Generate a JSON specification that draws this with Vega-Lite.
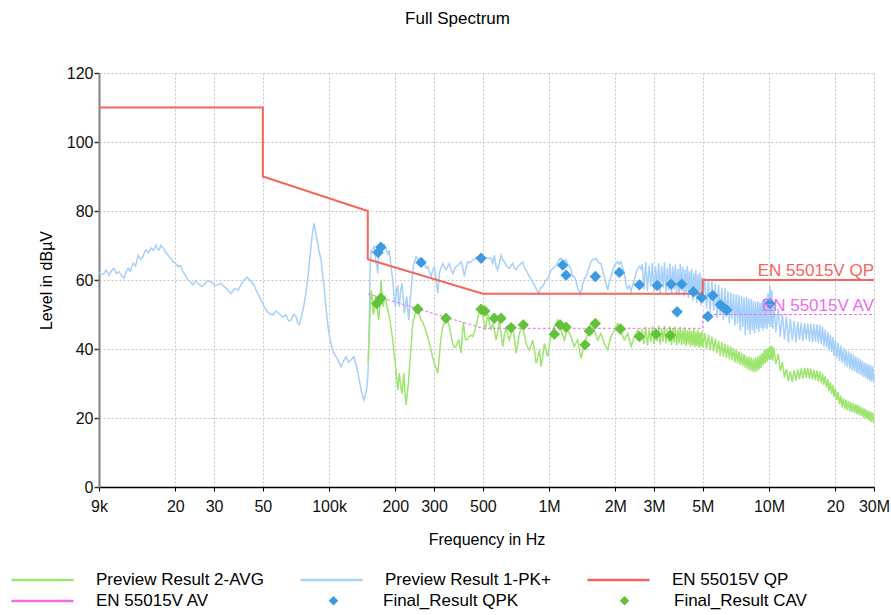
{
"$schema": "https://vega.github.io/schema/vega-lite/v6.json",
"width": 775, "height": 414,
"autosize": {"type": "none"},
"padding": {"left": 99, "top": 73, "right": 17, "bottom": 128},
"background": "white",
"title": {"text": "Full Spectrum", "frame": "group", "anchor": "middle", "dx": -29, "offset": 24, "baseline": "alphabetic", "fontSize": 17, "fontWeight": "normal", "font": "Liberation Sans", "color": "#000"},
"config": {"view": {"stroke": null}, "font": "Liberation Sans"},
"datasets": {
"pk": [
{"f":9000,"v":62.0},{"f":9450,"v":61.6},{"f":9690,"v":62.9},{"f":10000,"v":61.4},{"f":10250,"v":62.6},{"f":10540,"v":63.4},{"f":10800,"v":61.9},{"f":11100,"v":62.4},{"f":11400,"v":61.2},{"f":11700,"v":60.5},{"f":11950,"v":62.3},{"f":12210,"v":63.4},{"f":12500,"v":62.6},{"f":12860,"v":64.9},{"f":13200,"v":64.1},{"f":13550,"v":67.2},{"f":13900,"v":66.0},{"f":14270,"v":66.8},{"f":14500,"v":68.1},{"f":14730,"v":68.7},{"f":15100,"v":67.9},{"f":15520,"v":69.3},{"f":15900,"v":68.6},{"f":16360,"v":70.1},{"f":16600,"v":69.0},{"f":16880,"v":68.7},{"f":17200,"v":70.0},{"f":17600,"v":69.3},{"f":18000,"v":68.2},{"f":18540,"v":67.2},{"f":19000,"v":66.4},{"f":19540,"v":65.3},{"f":20000,"v":64.9},{"f":20590,"v":63.9},{"f":21100,"v":64.2},{"f":21700,"v":62.4},{"f":22300,"v":61.2},{"f":22860,"v":60.0},{"f":23400,"v":59.5},{"f":24090,"v":58.6},{"f":24700,"v":59.8},{"f":25380,"v":59.0},{"f":26200,"v":58.2},{"f":27030,"v":58.6},{"f":28000,"v":59.7},{"f":29080,"v":59.5},{"f":30200,"v":58.4},{"f":31300,"v":58.6},{"f":32300,"v":59.1},{"f":33330,"v":58.1},{"f":34500,"v":57.3},{"f":35850,"v":56.1},{"f":37200,"v":57.5},{"f":38580,"v":57.1},{"f":39800,"v":58.6},{"f":41080,"v":60.0},{"f":42500,"v":60.8},{"f":44200,"v":59.5},{"f":45300,"v":58.8},{"f":46570,"v":57.1},{"f":47800,"v":55.8},{"f":49080,"v":54.2},{"f":50400,"v":52.6},{"f":51710,"v":51.3},{"f":53500,"v":50.2},{"f":55660,"v":49.9},{"f":57500,"v":51.0},{"f":59250,"v":50.3},{"f":61500,"v":49.2},{"f":63730,"v":49.9},{"f":65500,"v":48.1},{"f":67180,"v":48.4},{"f":69000,"v":50.1},{"f":70790,"v":49.4},{"f":72000,"v":47.6},{"f":73050,"v":47.0},{"f":74500,"v":48.8},{"f":76180,"v":51.3},{"f":78200,"v":55.5},{"f":80270,"v":61.0},{"f":81500,"v":65.5},{"f":82840,"v":69.7},{"f":84000,"v":73.5},{"f":85460,"v":76.4},{"f":86800,"v":74.0},{"f":88200,"v":71.6},{"f":90000,"v":68.4},{"f":91970,"v":65.8},{"f":93500,"v":61.5},{"f":94900,"v":58.1},{"f":97000,"v":51.5},{"f":98960,"v":46.5},{"f":100500,"v":43.5},{"f":102100,"v":41.6},{"f":104800,"v":39.0},{"f":107600,"v":37.8},{"f":110500,"v":36.5},{"f":113400,"v":34.9},{"f":116500,"v":36.6},{"f":119500,"v":37.8},{"f":122500,"v":36.2},{"f":125900,"v":36.8},{"f":129900,"v":37.8},{"f":133000,"v":35.0},{"f":135500,"v":33.0},{"f":139800,"v":28.1},{"f":142000,"v":26.5},{"f":144300,"v":25.2},{"f":146500,"v":27.0},{"f":148800,"v":29.1},{"f":150500,"v":33.5},{"f":152000,"v":45.0},
{"f":153500,"v":62.0},{"f":155200,"v":68.7},{"f":156900,"v":67.5},{"f":158500,"v":69.2},{"f":160700,"v":69.7},{"f":163000,"v":66.0},{"f":166500,"v":62.0},{"f":168200,"v":67.0},{"f":169300,"v":69.3},{"f":172300,"v":68.5},{"f":175000,"v":69.5},{"f":178400,"v":70.1},{"f":181600,"v":69.0},{"f":185000,"v":67.5},{"f":188000,"v":68.7},{"f":191000,"v":64.0},{"f":194800,"v":60.0},{"f":197500,"v":55.0},{"f":200200,"v":52.3},{"f":202800,"v":57.5},{"f":205300,"v":58.1},{"f":207000,"v":54.0},{"f":208700,"v":52.3},{"f":211500,"v":57.0},{"f":214700,"v":59.0},{"f":217500,"v":54.0},{"f":220000,"v":50.3},{"f":223000,"v":53.5},{"f":225600,"v":55.2},{"f":228000,"v":51.0},{"f":230300,"v":48.4},{"f":233000,"v":53.0},{"f":236000,"v":57.1},{"f":241600,"v":63.9},{"f":248600,"v":66.8},{"f":253000,"v":66.0},{"f":257300,"v":65.8},{"f":261900,"v":65.3},{"f":266500,"v":64.2},{"f":271100,"v":64.8},{"f":276000,"v":63.5},{"f":280900,"v":63.9},{"f":285500,"v":62.5},{"f":290900,"v":61.0},{"f":296000,"v":62.8},{"f":301100,"v":63.9},{"f":306000,"v":60.5},{"f":312000,"v":56.1},{"f":317300,"v":61.9},{"f":322500,"v":63.5},{"f":328700,"v":64.8},{"f":334000,"v":63.8},{"f":340200,"v":62.9},{"f":346000,"v":63.8},{"f":352200,"v":64.8},{"f":358500,"v":63.2},{"f":365000,"v":61.9},{"f":371000,"v":63.0},{"f":377800,"v":63.9},{"f":388000,"v":64.5},{"f":398100,"v":65.3},{"f":404000,"v":64.0},{"f":412100,"v":61.0},{"f":419500,"v":63.5},{"f":427100,"v":65.3},{"f":438000,"v":65.0},{"f":450000,"v":65.8},{"f":462000,"v":66.2},{"f":474100,"v":66.8},{"f":485000,"v":67.0},{"f":499600,"v":67.2},{"f":513500,"v":66.3},{"f":526500,"v":66.3},{"f":545000,"v":66.3},{"f":554800,"v":64.8},{"f":564200,"v":67.2},{"f":574300,"v":64.0},{"f":584600,"v":62.9},{"f":594500,"v":65.0},{"f":605200,"v":67.2},{"f":616000,"v":65.8},{"f":626500,"v":65.3},{"f":643000,"v":63.8},{"f":660100,"v":63.4},{"f":672000,"v":64.2},{"f":683900,"v":64.8},{"f":696000,"v":63.5},{"f":707900,"v":63.0},{"f":720600,"v":63.9},{"f":740000,"v":64.5},{"f":759500,"v":65.3},{"f":772500,"v":63.5},{"f":786300,"v":62.9},{"f":800000,"v":62.0},{"f":813900,"v":61.0},{"f":835000,"v":59.8},{"f":857600,"v":58.6},{"f":877000,"v":57.2},{"f":898000,"v":56.1},{"f":918000,"v":57.8},{"f":936500,"v":58.1},{"f":960000,"v":59.6},{"f":986500,"v":60.5},{"f":1021000,"v":62.9},{"f":1048000,"v":63.5},{"f":1076000,"v":64.3},{"f":1095000,"v":65.0},{"f":1115000,"v":66.0},{"f":1134000,"v":66.3},{"f":1160000,"v":65.5},{"f":1195000,"v":65.8},{"f":1216000,"v":64.5},{"f":1240000,"v":63.9},{"f":1259000,"v":63.0},{"f":1281000,"v":61.0},{"f":1303000,"v":61.0},{"f":1327000,"v":59.5},{"f":1350000,"v":57.6},{"f":1370000,"v":56.8},{"f":1388000,"v":55.7},{"f":1410000,"v":57.5},{"f":1423000,"v":59.0},{"f":1447000,"v":60.3},{"f":1473000,"v":61.0},{"f":1499000,"v":62.5},{"f":1525000,"v":64.0},{"f":1552000,"v":65.3},{"f":1580000,"v":65.9},{"f":1607000,"v":66.0},{"f":1635000,"v":66.3},{"f":1665000,"v":65.5},{"f":1695000,"v":64.8},{"f":1723000,"v":64.8},{"f":1755000,"v":62.5},{"f":1784000,"v":61.0},{"f":1815000,"v":59.0},{"f":1849000,"v":57.1},{"f":1880000,"v":59.5},{"f":1913000,"v":61.0},{"f":1948000,"v":62.8},{"f":1981000,"v":64.3},{"f":2016000,"v":64.8},{"f":2052000,"v":65.3},{"f":2090000,"v":64.6},{"f":2125000,"v":65.3},{"f":2160000,"v":63.5},{"f":2199000,"v":61.9},{"f":2239000,"v":59.0},{"f":2279000,"v":57.5},{"f":2320000,"v":58.3},{"f":2359000,"v":56.6},{"f":2400000,"v":58.5},{"f":2442000,"v":60.0},{"f":2490000,"v":62.0},{"f":2531000,"v":63.4},{"f":2574000,"v":64.0},{"f":2619000,"v":63.2},
{"f":2.65e6,"v":64.6},{"f":2.70e6,"v":57.4},{"f":2.75e6,"v":65.2},{"f":2.80e6,"v":56.8},{"f":2.85e6,"v":64.1},{"f":2.90e6,"v":58.2},{"f":2.95e6,"v":65.0},{"f":3.00e6,"v":56.5},{"f":3.05e6,"v":63.8},{"f":3.10e6,"v":57.6},{"f":3.15e6,"v":64.9},{"f":3.20e6,"v":56.2},{"f":3.25e6,"v":64.0},{"f":3.30e6,"v":57.8},{"f":3.35e6,"v":65.1},{"f":3.40e6,"v":56.4},{"f":3.45e6,"v":63.6},{"f":3.50e6,"v":57.0},{"f":3.55e6,"v":64.8},{"f":3.60e6,"v":55.8},{"f":3.65e6,"v":63.9},{"f":3.70e6,"v":57.2},{"f":3.75e6,"v":64.5},{"f":3.80e6,"v":56.0},{"f":3.85e6,"v":63.2},{"f":3.90e6,"v":55.6},{"f":3.95e6,"v":64.6},{"f":4.00e6,"v":56.8},{"f":4.05e6,"v":63.8},{"f":4.10e6,"v":55.2},{"f":4.15e6,"v":63.0},{"f":4.20e6,"v":56.3},{"f":4.25e6,"v":64.0},{"f":4.30e6,"v":54.8},{"f":4.35e6,"v":62.6},{"f":4.40e6,"v":55.9},{"f":4.45e6,"v":63.1},{"f":4.50e6,"v":54.0},{"f":4.55e6,"v":62.0},{"f":4.60e6,"v":55.2},{"f":4.65e6,"v":62.8},{"f":4.70e6,"v":53.4},{"f":4.75e6,"v":61.6},{"f":4.80e6,"v":54.6},{"f":4.85e6,"v":62.2},{"f":4.90e6,"v":52.6},{"f":4.95e6,"v":61.0},{"f":5.00e6,"v":53.5},
{"f":5.1e6,"v":60.6},{"f":5.2e6,"v":51.6},{"f":5.3e6,"v":60.2},{"f":5.4e6,"v":50.4},{"f":5.5e6,"v":59.6},{"f":5.6e6,"v":51.0},{"f":5.7e6,"v":59.0},{"f":5.8e6,"v":49.0},{"f":5.9e6,"v":58.6},{"f":6.0e6,"v":50.0},{"f":6.1e6,"v":57.8},{"f":6.2e6,"v":48.5},{"f":6.3e6,"v":57.6},{"f":6.4e6,"v":49.2},{"f":6.5e6,"v":56.8},{"f":6.6e6,"v":47.5},{"f":6.7e6,"v":56.4},{"f":6.8e6,"v":48.6},{"f":6.9e6,"v":56.0},{"f":7.0e6,"v":46.8},{"f":7.1e6,"v":55.8},{"f":7.2e6,"v":47.4},{"f":7.3e6,"v":55.6},{"f":7.4e6,"v":45.2},{"f":7.5e6,"v":55.4},{"f":7.6e6,"v":46.4},{"f":7.7e6,"v":55.0},{"f":7.8e6,"v":44.0},{"f":7.9e6,"v":55.2},{"f":8.0e6,"v":45.6},{"f":8.1e6,"v":54.6},{"f":8.2e6,"v":44.2},{"f":8.3e6,"v":54.4},{"f":8.4e6,"v":45.4},{"f":8.5e6,"v":54.0},{"f":8.6e6,"v":44.6},{"f":8.7e6,"v":53.6},{"f":8.8e6,"v":45.8},{"f":8.9e6,"v":53.8},{"f":9.0e6,"v":45.0},{"f":9.1e6,"v":53.4},{"f":9.2e6,"v":46.0},{"f":9.3e6,"v":54.0},{"f":9.4e6,"v":45.4},{"f":9.5e6,"v":54.2},{"f":9.6e6,"v":46.2},{"f":9.7e6,"v":55.0},{"f":9.8e6,"v":45.8},{"f":9.9e6,"v":56.2},{"f":10.0e6,"v":47.0},{"f":10.1e6,"v":58.4},{"f":10.2e6,"v":46.4},{"f":10.3e6,"v":57.0},{"f":10.4e6,"v":45.8},{"f":10.5e6,"v":53.5},
{"f":10.75e6,"v":44.8},{"f":11.0e6,"v":51.8},{"f":11.25e6,"v":43.6},{"f":11.5e6,"v":50.2},{"f":11.75e6,"v":42.8},{"f":12.0e6,"v":49.4},{"f":12.25e6,"v":41.8},{"f":12.5e6,"v":48.8},{"f":12.75e6,"v":42.4},{"f":13.0e6,"v":48.2},{"f":13.25e6,"v":42.0},{"f":13.5e6,"v":47.9},{"f":13.75e6,"v":42.6},{"f":14.0e6,"v":47.6},{"f":14.25e6,"v":42.3},{"f":14.5e6,"v":47.5},{"f":14.75e6,"v":42.7},{"f":15.0e6,"v":47.3},{"f":15.25e6,"v":42.2},{"f":15.5e6,"v":47.4},{"f":15.75e6,"v":42.0},{"f":16.0e6,"v":47.2},{"f":16.25e6,"v":42.1},{"f":16.5e6,"v":47.1},{"f":16.75e6,"v":41.7},{"f":17.0e6,"v":47.0},{"f":17.25e6,"v":41.4},{"f":17.5e6,"v":46.4},{"f":17.75e6,"v":40.8},{"f":18.0e6,"v":45.6},{"f":18.25e6,"v":40.3},{"f":18.5e6,"v":44.9},{"f":18.75e6,"v":39.6},{"f":19.0e6,"v":44.2},{"f":19.25e6,"v":39.1},{"f":19.5e6,"v":43.4},{"f":19.75e6,"v":38.0},{"f":20.0e6,"v":42.6},{"f":20.3e6,"v":37.4},{"f":20.6e6,"v":41.9},{"f":20.9e6,"v":36.5},{"f":21.2e6,"v":41.0},{"f":21.5e6,"v":35.9},{"f":21.8e6,"v":40.2},{"f":22.1e6,"v":35.2},{"f":22.4e6,"v":39.8},{"f":22.7e6,"v":34.7},{"f":23.0e6,"v":39.3},{"f":23.3e6,"v":34.2},{"f":23.6e6,"v":38.8},{"f":23.9e6,"v":33.7},{"f":24.2e6,"v":38.4},{"f":24.5e6,"v":33.4},{"f":24.8e6,"v":37.8},{"f":25.1e6,"v":33.0},{"f":25.4e6,"v":37.4},{"f":25.7e6,"v":32.7},{"f":26.0e6,"v":37.0},{"f":26.3e6,"v":32.3},{"f":26.6e6,"v":36.6},{"f":26.9e6,"v":31.9},{"f":27.2e6,"v":36.1},{"f":27.5e6,"v":31.6},{"f":27.8e6,"v":35.8},{"f":28.1e6,"v":31.2},{"f":28.4e6,"v":35.6},{"f":28.7e6,"v":30.8},{"f":29.0e6,"v":35.3},{"f":29.3e6,"v":30.5},{"f":29.6e6,"v":35.0},{"f":30.0e6,"v":30.4}
],
"avg": [
{"f":150500,"v":36.0},{"f":152000,"v":42.6},{"f":153500,"v":50.0},{"f":155200,"v":57.0},{"f":156900,"v":55.2},{"f":158800,"v":50.0},{"f":160700,"v":51.3},{"f":162700,"v":55.5},{"f":164700,"v":54.2},{"f":166500,"v":50.5},{"f":168200,"v":48.4},{"f":170200,"v":53.0},{"f":172300,"v":60.0},{"f":174400,"v":55.0},{"f":176500,"v":52.3},{"f":179000,"v":55.5},{"f":181600,"v":54.2},{"f":185000,"v":51.0},{"f":188000,"v":49.4},{"f":191500,"v":46.0},{"f":194800,"v":42.6},{"f":197500,"v":38.5},{"f":200200,"v":35.8},{"f":203000,"v":31.5},{"f":205300,"v":28.1},{"f":207000,"v":30.5},{"f":208700,"v":33.0},{"f":210300,"v":31.0},{"f":212500,"v":28.5},{"f":214700,"v":27.1},{"f":216600,"v":30.0},{"f":218600,"v":33.0},{"f":221000,"v":28.0},{"f":223900,"v":23.8},{"f":226500,"v":26.5},{"f":229400,"v":30.1},{"f":232500,"v":35.5},{"f":236000,"v":40.7},{"f":238500,"v":45.0},{"f":241600,"v":48.4},{"f":244500,"v":49.5},{"f":246800,"v":50.3},{"f":250000,"v":51.0},{"f":253000,"v":51.3},{"f":257000,"v":50.0},{"f":261900,"v":48.4},{"f":266500,"v":47.8},{"f":271100,"v":46.5},{"f":276000,"v":45.0},{"f":280900,"v":43.6},{"f":286000,"v":41.5},{"f":290900,"v":39.7},{"f":296000,"v":37.5},{"f":301100,"v":35.8},{"f":306500,"v":34.5},{"f":312000,"v":33.0},{"f":315500,"v":36.0},{"f":319600,"v":40.7},{"f":324000,"v":44.0},{"f":328700,"v":46.5},{"f":334000,"v":47.5},{"f":340200,"v":48.9},{"f":346000,"v":48.0},{"f":352200,"v":46.5},{"f":358500,"v":44.0},{"f":365000,"v":41.6},{"f":371000,"v":40.5},{"f":377800,"v":40.7},{"f":383000,"v":41.8},{"f":388600,"v":42.6},{"f":393500,"v":40.5},{"f":398100,"v":38.8},{"f":403000,"v":43.5},{"f":407800,"v":47.9},{"f":412000,"v":45.5},{"f":416000,"v":43.0},{"f":419500,"v":42.6},{"f":427000,"v":43.0},{"f":434200,"v":43.6},{"f":442000,"v":44.0},{"f":450000,"v":43.6},{"f":458000,"v":45.0},{"f":465800,"v":46.5},{"f":472500,"v":48.5},{"f":479200,"v":50.3},{"f":488000,"v":51.3},{"f":496000,"v":51.0},{"f":505000,"v":48.0},{"f":513500,"v":45.5},{"f":520000,"v":48.0},{"f":526500,"v":50.3},{"f":535000,"v":47.5},{"f":545000,"v":45.5},{"f":554800,"v":47.4},{"f":564200,"v":45.5},{"f":574300,"v":42.6},{"f":584600,"v":45.0},{"f":594500,"v":48.4},{"f":605200,"v":44.5},{"f":616000,"v":40.7},{"f":626500,"v":44.0},{"f":637700,"v":46.5},{"f":648000,"v":44.0},{"f":660100,"v":42.6},{"f":672000,"v":44.5},{"f":683900,"v":46.5},{"f":696000,"v":43.0},{"f":707900,"v":38.8},{"f":720600,"v":41.5},{"f":732800,"v":44.5},{"f":746000,"v":45.8},{"f":759500,"v":46.5},{"f":772500,"v":44.0},{"f":786300,"v":41.6},{"f":800000,"v":40.5},{"f":813900,"v":39.7},{"f":828000,"v":41.0},{"f":843300,"v":42.6},{"f":857600,"v":40.0},{"f":873000,"v":35.8},{"f":888000,"v":37.5},{"f":903700,"v":39.7},{"f":919900,"v":34.9},{"f":936500,"v":38.0},{"f":952000,"v":41.6},{"f":970000,"v":39.5},{"f":986500,"v":37.8},{"f":1003000,"v":41.0},{"f":1021000,"v":44.5},{"f":1039000,"v":45.5},{"f":1057000,"v":46.5},{"f":1076000,"v":47.5},{"f":1095000,"v":48.4},{"f":1115000,"v":47.0},{"f":1134000,"v":45.5},{"f":1154000,"v":44.0},{"f":1174000,"v":42.6},{"f":1195000,"v":44.5},{"f":1216000,"v":45.5},{"f":1237000,"v":44.5},{"f":1259000,"v":43.6},{"f":1281000,"v":42.0},{"f":1303000,"v":40.7},{"f":1327000,"v":41.8},{"f":1350000,"v":42.6},{"f":1374000,"v":39.8},{"f":1398000,"v":37.3},{"f":1423000,"v":39.5},{"f":1447000,"v":41.6},{"f":1473000,"v":43.0},{"f":1499000,"v":44.5},{"f":1525000,"v":46.0},{"f":1552000,"v":47.4},{"f":1580000,"v":46.4},{"f":1607000,"v":45.5},{"f":1635000,"v":44.0},{"f":1665000,"v":42.6},{"f":1695000,"v":43.6},{"f":1723000,"v":44.5},{"f":1755000,"v":43.0},{"f":1784000,"v":41.6},{"f":1815000,"v":40.6},{"f":1849000,"v":39.7},{"f":1880000,"v":41.8},{"f":1913000,"v":43.6},{"f":1948000,"v":44.5},{"f":1981000,"v":45.5},{"f":2016000,"v":46.5},{"f":2052000,"v":47.4},{"f":2090000,"v":46.2},{"f":2125000,"v":45.0},{"f":2160000,"v":43.8},{"f":2199000,"v":42.6},{"f":2239000,"v":43.6},{"f":2279000,"v":44.5},{"f":2320000,"v":42.6},{"f":2359000,"v":40.7},{"f":2400000,"v":42.2},{"f":2442000,"v":43.6},{"f":2490000,"v":44.6},{"f":2531000,"v":45.5},{"f":2574000,"v":44.0},{"f":2619000,"v":42.6},
{"f":2.65e6,"v":45.8},{"f":2.70e6,"v":41.4},{"f":2.75e6,"v":46.4},{"f":2.80e6,"v":41.0},{"f":2.85e6,"v":45.6},{"f":2.90e6,"v":42.0},{"f":2.95e6,"v":46.6},{"f":3.00e6,"v":41.5},{"f":3.05e6,"v":45.9},{"f":3.10e6,"v":42.2},{"f":3.15e6,"v":46.8},{"f":3.20e6,"v":41.3},{"f":3.25e6,"v":46.0},{"f":3.30e6,"v":42.1},{"f":3.35e6,"v":46.7},{"f":3.40e6,"v":41.6},{"f":3.45e6,"v":45.8},{"f":3.50e6,"v":42.0},{"f":3.55e6,"v":46.6},{"f":3.60e6,"v":41.2},{"f":3.65e6,"v":46.1},{"f":3.70e6,"v":41.8},{"f":3.75e6,"v":46.5},{"f":3.80e6,"v":41.0},{"f":3.85e6,"v":45.6},{"f":3.90e6,"v":41.6},{"f":3.95e6,"v":46.4},{"f":4.00e6,"v":41.1},{"f":4.05e6,"v":45.6},{"f":4.10e6,"v":41.5},{"f":4.15e6,"v":46.2},{"f":4.20e6,"v":40.8},{"f":4.25e6,"v":45.4},{"f":4.30e6,"v":41.3},{"f":4.35e6,"v":46.0},{"f":4.40e6,"v":40.7},{"f":4.45e6,"v":45.2},{"f":4.50e6,"v":41.0},{"f":4.55e6,"v":45.8},{"f":4.60e6,"v":40.6},{"f":4.65e6,"v":45.0},{"f":4.70e6,"v":40.9},{"f":4.75e6,"v":45.6},{"f":4.80e6,"v":40.4},{"f":4.85e6,"v":44.8},{"f":4.90e6,"v":40.7},{"f":4.95e6,"v":45.3},{"f":5.00e6,"v":40.4},
{"f":5.1e6,"v":44.6},{"f":5.2e6,"v":40.0},{"f":5.3e6,"v":44.2},{"f":5.4e6,"v":39.6},{"f":5.5e6,"v":43.6},{"f":5.6e6,"v":39.4},{"f":5.7e6,"v":43.0},{"f":5.8e6,"v":38.8},{"f":5.9e6,"v":42.4},{"f":6.0e6,"v":38.1},{"f":6.1e6,"v":42.0},{"f":6.2e6,"v":37.8},{"f":6.3e6,"v":41.6},{"f":6.4e6,"v":37.4},{"f":6.5e6,"v":41.1},{"f":6.6e6,"v":37.0},{"f":6.7e6,"v":40.8},{"f":6.8e6,"v":36.6},{"f":6.9e6,"v":40.3},{"f":7.0e6,"v":36.1},{"f":7.1e6,"v":39.9},{"f":7.2e6,"v":35.8},{"f":7.3e6,"v":39.4},{"f":7.4e6,"v":35.3},{"f":7.5e6,"v":38.9},{"f":7.6e6,"v":35.0},{"f":7.7e6,"v":38.5},{"f":7.8e6,"v":34.6},{"f":7.9e6,"v":38.0},{"f":8.0e6,"v":34.1},{"f":8.1e6,"v":37.8},{"f":8.2e6,"v":33.8},{"f":8.3e6,"v":37.5},{"f":8.4e6,"v":33.4},{"f":8.5e6,"v":37.2},{"f":8.6e6,"v":33.3},{"f":8.7e6,"v":37.5},{"f":8.8e6,"v":33.6},{"f":8.9e6,"v":37.8},{"f":9.0e6,"v":34.0},{"f":9.1e6,"v":38.3},{"f":9.2e6,"v":34.5},{"f":9.3e6,"v":38.8},{"f":9.4e6,"v":35.2},{"f":9.5e6,"v":39.6},{"f":9.6e6,"v":35.8},{"f":9.7e6,"v":40.0},{"f":9.8e6,"v":36.3},{"f":9.9e6,"v":40.4},{"f":10.0e6,"v":36.8},{"f":10.1e6,"v":40.8},{"f":10.2e6,"v":36.9},{"f":10.3e6,"v":41.0},{"f":10.4e6,"v":36.6},{"f":10.5e6,"v":40.4},
{"f":10.75e6,"v":35.6},{"f":11.0e6,"v":38.6},{"f":11.25e6,"v":33.6},{"f":11.5e6,"v":36.2},{"f":11.75e6,"v":31.8},{"f":12.0e6,"v":34.2},{"f":12.25e6,"v":30.6},{"f":12.5e6,"v":33.5},{"f":12.75e6,"v":30.5},{"f":13.0e6,"v":33.8},{"f":13.25e6,"v":30.8},{"f":13.5e6,"v":34.1},{"f":13.75e6,"v":31.2},{"f":14.0e6,"v":34.4},{"f":14.25e6,"v":31.4},{"f":14.5e6,"v":34.5},{"f":14.75e6,"v":31.6},{"f":15.0e6,"v":34.5},{"f":15.25e6,"v":31.4},{"f":15.5e6,"v":34.3},{"f":15.75e6,"v":31.1},{"f":16.0e6,"v":34.0},{"f":16.25e6,"v":30.9},{"f":16.5e6,"v":33.8},{"f":16.75e6,"v":30.6},{"f":17.0e6,"v":33.5},{"f":17.25e6,"v":30.2},{"f":17.5e6,"v":32.9},{"f":17.75e6,"v":29.6},{"f":18.0e6,"v":32.1},{"f":18.25e6,"v":28.7},{"f":18.5e6,"v":31.3},{"f":18.75e6,"v":27.8},{"f":19.0e6,"v":30.4},{"f":19.25e6,"v":27.0},{"f":19.5e6,"v":29.5},{"f":19.75e6,"v":26.1},{"f":20.0e6,"v":28.6},{"f":20.3e6,"v":25.2},{"f":20.6e6,"v":27.5},{"f":20.9e6,"v":24.0},{"f":21.2e6,"v":26.4},{"f":21.5e6,"v":23.1},{"f":21.8e6,"v":25.8},{"f":22.1e6,"v":22.6},{"f":22.4e6,"v":25.3},{"f":22.7e6,"v":22.2},{"f":23.0e6,"v":24.9},{"f":23.3e6,"v":21.9},{"f":23.6e6,"v":24.6},{"f":23.9e6,"v":21.7},{"f":24.2e6,"v":24.3},{"f":24.5e6,"v":21.4},{"f":24.8e6,"v":24.0},{"f":25.1e6,"v":21.1},{"f":25.4e6,"v":23.8},{"f":25.7e6,"v":20.8},{"f":26.0e6,"v":23.4},{"f":26.3e6,"v":20.5},{"f":26.6e6,"v":23.0},{"f":26.9e6,"v":20.1},{"f":27.2e6,"v":22.7},{"f":27.5e6,"v":19.8},{"f":27.8e6,"v":22.3},{"f":28.1e6,"v":19.5},{"f":28.4e6,"v":22.1},{"f":28.7e6,"v":19.1},{"f":29.0e6,"v":21.8},{"f":29.3e6,"v":18.8},{"f":29.6e6,"v":21.6},{"f":30.0e6,"v":18.6}
],
"qp": [{"o":1,"f":9000,"v":110},{"o":2,"f":50000,"v":110},{"o":3,"f":50000,"v":90},{"o":4,"f":150000,"v":80},{"o":5,"f":150000,"v":66},{"o":6,"f":500000,"v":56},{"o":7,"f":5000000,"v":56},{"o":8,"f":5000000,"v":60},{"o":9,"f":30000000,"v":60}],
"av": [{"o":1,"f":150000,"v":56},{"o":2,"f":500000,"v":46},{"o":3,"f":5000000,"v":46},{"o":4,"f":5000000,"v":50},{"o":5,"f":30000000,"v":50}],
"qpk": [{"f":167000,"v":68.0},{"f":172000,"v":69.5},{"f":262000,"v":65.1},{"f":491000,"v":66.3},{"f":1154000,"v":64.3},{"f":1195000,"v":61.4},{"f":1624000,"v":61.0},{"f":2087000,"v":62.2},{"f":2574000,"v":58.6},{"f":3100000,"v":58.4},{"f":3585000,"v":58.8},{"f":3820000,"v":50.8},{"f":4010000,"v":58.8},{"f":4530000,"v":56.6},{"f":4940000,"v":54.9},{"f":5270000,"v":49.4},{"f":5550000,"v":55.5},{"f":6000000,"v":52.8},{"f":6200000,"v":52.0},{"f":6430000,"v":51.3},{"f":10100000,"v":53.2}],
"cav": [{"f":164700,"v":53.2},{"f":172000,"v":54.7},{"f":253000,"v":51.6},{"f":340000,"v":48.9},{"f":491000,"v":51.5},{"f":510000,"v":51.0},{"f":564000,"v":48.9},{"f":605000,"v":48.9},{"f":672000,"v":46.2},{"f":764000,"v":47.0},{"f":1057000,"v":44.3},{"f":1122000,"v":47.0},{"f":1195000,"v":46.3},{"f":1458000,"v":41.2},{"f":1525000,"v":45.2},{"f":1624000,"v":47.4},{"f":2110000,"v":45.8},{"f":2574000,"v":43.6},{"f":3060000,"v":44.3},{"f":3560000,"v":43.9}],
"lblqp": [{"f":30000000,"v":60,"t":"EN 55015V QP"}],
"lblav": [{"f":30000000,"v":50,"t":"EN 55015V AV"}]
},
"layer": [
{"data": {"name": "pk"}, "mark": {"type": "line", "strokeWidth": 1.5},
 "encoding": {
  "x": {"field": "f", "type": "quantitative", "scale": {"type": "log", "domain": [9000, 30000000], "nice": false},
   "axis": {"values": [9000, 20000, 30000, 50000, 100000, 200000, 300000, 500000, 1000000, 2000000, 3000000, 5000000, 10000000, 20000000, 30000000],
    "labelExpr": "datum.value==9000?'9k':datum.value==100000?'100k':datum.value==1000000?'1M':datum.value==10000000?'10M':datum.value==30000000?'30M':datum.value<1000000?format(datum.value/1000,'d'):datum.value<10000000?format(datum.value/1000000,'d')+'M':format(datum.value/1000000,'d')",
    "grid": true, "gridDash": [2, 2], "gridColor": "#c4c4c4", "gridWidth": 1,
    "domainColor": "#000", "domainWidth": 1.5, "tickColor": "#000", "tickSize": 4, "tickWidth": 1,
    "labelFontSize": 16, "labelFont": "Liberation Sans", "labelColor": "#111", "labelPadding": 7, "labelFlush": false, "labelOverlap": false,
    "title": "Frequency in Hz", "titleFontSize": 16, "titleFontWeight": "normal", "titleFont": "Liberation Sans", "titleColor": "#000", "titlePadding": 17}},
  "y": {"field": "v", "type": "quantitative", "scale": {"domain": [0, 120], "nice": false},
   "axis": {"values": [0, 10, 20, 30, 40, 50, 60, 70, 80, 90, 100, 110, 120],
    "labelExpr": "datum.value % 20 == 0 ? datum.label : ''",
    "grid": true, "gridDash": [2, 2], "gridColor": "#c4c4c4", "gridWidth": 1,
    "domainColor": "#808080", "domainWidth": 2, "tickColor": "#333", "tickSize": 5, "tickWidth": 1.5,
    "labelFontSize": 16, "labelFont": "Liberation Sans", "labelColor": "#111", "labelPadding": 1, "labelFlush": false, "labelOverlap": false,
    "title": "Level in dBµV", "titleFontSize": 16, "titleFontWeight": "normal", "titleFont": "Liberation Sans", "titleColor": "#000", "titlePadding": 12}},
  "color": {"datum": "Preview Result 1-PK+", "type": "nominal",
   "scale": {"domain": ["Preview Result 2-AVG", "Preview Result 1-PK+", "EN 55015V QP", "EN 55015V AV"],
             "range": ["#9ee56f", "#a6d0fa", "#f4665c", "#ee6bee"]},
   "legend": {"title": null, "orient": "none", "direction": "horizontal", "legendX": -89, "legendY": 498, "columns": 3, "columnPadding": 35, "rowPadding": 3,
    "symbolType": "stroke", "symbolSize": 3844, "symbolStrokeWidth": 2.5, "clipHeight": 18, "labelOffset": 21, "labelFontSize": 17, "labelFont": "Liberation Sans", "labelColor": "#000", "labelLimit": 300, "padding": 0}}
 }},
{"data": {"name": "avg"}, "mark": {"type": "line", "strokeWidth": 1.5},
 "encoding": {"x": {"field": "f", "type": "quantitative"}, "y": {"field": "v", "type": "quantitative"}, "color": {"datum": "Preview Result 2-AVG", "type": "nominal"}}},
{"data": {"name": "av"}, "mark": {"type": "line", "strokeWidth": 1, "strokeDash": [3, 2]},
 "encoding": {"x": {"field": "f", "type": "quantitative"}, "y": {"field": "v", "type": "quantitative"}, "order": {"field": "o", "type": "quantitative"}, "color": {"datum": "EN 55015V AV", "type": "nominal"}}},
{"data": {"name": "qp"}, "mark": {"type": "line", "strokeWidth": 2},
 "encoding": {"x": {"field": "f", "type": "quantitative"}, "y": {"field": "v", "type": "quantitative"}, "order": {"field": "o", "type": "quantitative"}, "color": {"datum": "EN 55015V QP", "type": "nominal"}}},
{"data": {"name": "qpk"}, "mark": {"type": "point", "shape": "diamond", "filled": true, "size": 130, "opacity": 1},
 "encoding": {"x": {"field": "f", "type": "quantitative"}, "y": {"field": "v", "type": "quantitative"},
  "fill": {"datum": "Final_Result QPK", "type": "nominal",
   "scale": {"domain": ["Final_Result QPK", "Final_Result CAV"], "range": ["#3c9be0", "#62c23c"]},
   "legend": {"title": null, "orient": "none", "direction": "horizontal", "legendX": 226, "legendY": 519, "columns": 2, "columnPadding": 97, "rowPadding": 3,
    "symbolType": "diamond", "symbolSize": 90, "symbolStrokeWidth": 0, "symbolOpacity": 1, "labelOffset": 41, "labelFontSize": 17, "labelFont": "Liberation Sans", "labelColor": "#000", "labelLimit": 300, "padding": 0}}}},
{"data": {"name": "cav"}, "mark": {"type": "point", "shape": "diamond", "filled": true, "size": 130, "opacity": 1},
 "encoding": {"x": {"field": "f", "type": "quantitative"}, "y": {"field": "v", "type": "quantitative"}, "fill": {"datum": "Final_Result CAV", "type": "nominal"}}},
{"data": {"name": "lblqp"}, "mark": {"type": "text", "align": "right", "baseline": "alphabetic", "dy": -4, "fontSize": 17, "font": "Liberation Sans", "color": "#f4665c"},
 "encoding": {"x": {"field": "f", "type": "quantitative"}, "y": {"field": "v", "type": "quantitative"}, "text": {"field": "t"}}},
{"data": {"name": "lblav"}, "mark": {"type": "text", "align": "right", "baseline": "alphabetic", "dy": -4, "fontSize": 17, "font": "Liberation Sans", "color": "#ee6bee"},
 "encoding": {"x": {"field": "f", "type": "quantitative"}, "y": {"field": "v", "type": "quantitative"}, "text": {"field": "t"}}}
]
}
